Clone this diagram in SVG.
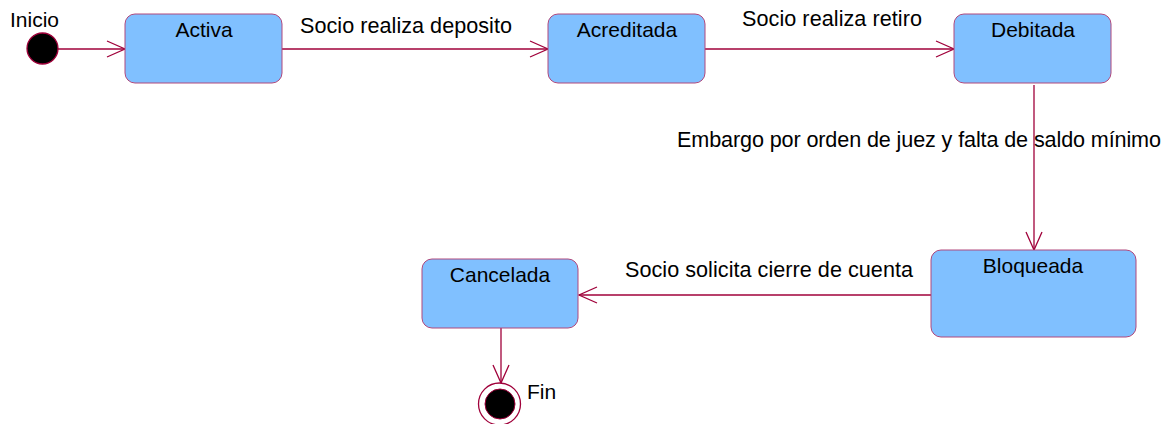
<svg xmlns="http://www.w3.org/2000/svg" width="1166" height="424" viewBox="0 0 1166 424">
<defs>
<style>
.st{fill:#80C0FF;stroke:#B0487C;stroke-width:1}
.t{font-family:"Liberation Sans",Arial,sans-serif;font-size:21px;fill:#000}
.l{font-size:21.6px}
.c{text-anchor:middle}
.e{fill:none;stroke:#A0003A;stroke-width:1.3}
</style>
<marker id="ah" viewBox="0 0 20 18" refX="19" refY="9" markerWidth="20" markerHeight="18" markerUnits="userSpaceOnUse" orient="auto">
<path d="M1,1 L19,9 L1,17" fill="none" stroke="#A0003A" stroke-width="1.3"/>
</marker>
</defs>
<rect width="1166" height="424" fill="#fff"/>
<g id="connectors">
<line class="e" x1="58" y1="49" x2="125" y2="49" marker-end="url(#ah)"/>
<line class="e" x1="282" y1="49" x2="548" y2="49" marker-end="url(#ah)"/>
<line class="e" x1="705" y1="49" x2="954" y2="49" marker-end="url(#ah)"/>
<line class="e" x1="1034" y1="85" x2="1034" y2="250" marker-end="url(#ah)"/>
<line class="e" x1="931" y1="295" x2="579" y2="295" marker-end="url(#ah)"/>
<line class="e" x1="501" y1="328" x2="501" y2="383" marker-end="url(#ah)"/>
<text class="t l" x="300" y="33" textLength="212" lengthAdjust="spacing">Socio realiza deposito</text>
<text class="t l" x="742" y="26" textLength="180" lengthAdjust="spacing">Socio realiza retiro</text>
<text class="t l" x="677" y="147" textLength="484" lengthAdjust="spacing">Embargo por orden de juez y falta de saldo mínimo</text>
<text class="t l" x="625" y="277" textLength="288" lengthAdjust="spacing">Socio solicita cierre de cuenta</text>
</g>
<g id="inicio">
<circle cx="42.5" cy="48.5" r="15.5" fill="#000" stroke="#A0003A" stroke-width="1.3"/>
<text class="t" x="10" y="27">Inicio</text>
</g>
<g id="activa">
<rect class="st" x="125" y="14" width="157" height="69" rx="10"/>
<text class="t c" x="204" y="37">Activa</text>
</g>
<g id="acreditada">
<rect class="st" x="548" y="14" width="157" height="69" rx="10"/>
<text class="t c" x="627" y="37">Acreditada</text>
</g>
<g id="debitada">
<rect class="st" x="954" y="14" width="157" height="69" rx="10"/>
<text class="t c" x="1033" y="37">Debitada</text>
</g>
<g id="bloqueada">
<rect class="st" x="931" y="250" width="205" height="87" rx="10"/>
<text class="t c" x="1033" y="273">Bloqueada</text>
</g>
<g id="cancelada">
<rect class="st" x="422" y="259" width="156" height="69" rx="10"/>
<text class="t c" x="500" y="282">Cancelada</text>
</g>
<g id="fin">
<circle cx="499.5" cy="404" r="21" fill="#fff" stroke="#A0003A" stroke-width="1.3"/>
<circle cx="500" cy="404" r="15" fill="#000" stroke="#A0003A" stroke-width="1"/>
<text class="t" x="527" y="399">Fin</text>
</g>
</svg>
